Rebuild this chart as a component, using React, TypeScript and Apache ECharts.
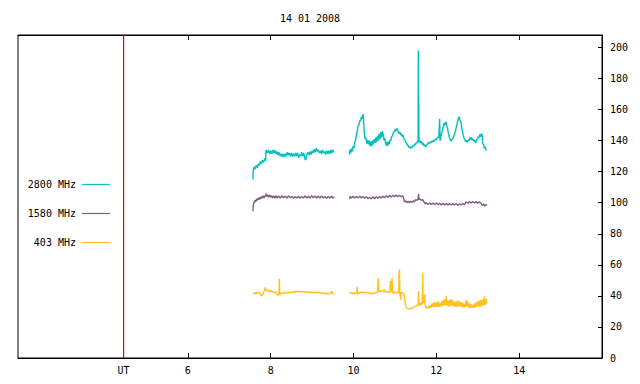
import React, { useEffect, useRef } from "react";
import * as echarts from "echarts";

const title = "14 01 2008";
const seriesNames = ["2800 MHz", "1580 MHz", "403 MHz"];
const seriesColors = ["#00c0c0", "#806080", "#ffc020"];
const utHour = 4.45;
const xTicks = [6, 8, 10, 12, 14];
const yTicks = [0, 20, 40, 60, 80, 100, 120, 140, 160, 180, 200];
const yMax = 208;

const cyan1: [number, number][] = [[7.57,115],[7.58,121],[7.60,123],[7.62,121.5],[7.65,124],[7.68,122.5],[7.70,125],[7.73,124],[7.75,126.5],[7.78,125],[7.80,127.5],[7.83,126],[7.86,128.5],[7.88,127],[7.89,134],[7.92,132],[7.95,134],[7.98,131.5],[8.00,133.5],[8.03,131.5],[8.05,134],[8.08,132],[8.10,134],[8.13,131.5],[8.15,133],[8.18,130.5],[8.20,132.5],[8.23,130],[8.25,131.5],[8.28,129.5],[8.30,131.5],[8.33,129.5],[8.35,131.5],[8.38,130],[8.40,132.5],[8.43,130.5],[8.45,132],[8.48,130],[8.50,132],[8.53,129.5],[8.55,131.5],[8.58,130],[8.60,132],[8.63,130],[8.65,132],[8.68,129],[8.70,131],[8.73,130],[8.75,132.5],[8.78,130],[8.80,132],[8.83,128],[8.85,127.5],[8.87,131],[8.90,132.5],[8.93,130.5],[8.95,133],[8.98,131],[9.00,133.5],[9.03,132],[9.05,134.5],[9.08,132.5],[9.10,135],[9.13,133],[9.15,134],[9.18,132],[9.20,133.5],[9.23,131.5],[9.25,134],[9.28,132],[9.30,133],[9.33,131],[9.35,133.5],[9.38,131.5],[9.40,133.5],[9.43,131.5],[9.45,134],[9.48,132],[9.50,134],[9.53,132.5]];
const cyan2: [number, number][] = [[9.90,131],[9.91,134],[9.93,132],[9.95,135],[9.97,133],[9.99,136.5],[10.01,135],[10.03,139],[10.05,140],[10.07,144],[10.09,146],[10.11,149.5],[10.13,150],[10.15,153],[10.17,152.5],[10.19,155.5],[10.21,154],[10.23,157],[10.24,155],[10.26,145],[10.28,141],[10.30,142],[10.32,138],[10.34,140.5],[10.36,137.5],[10.38,140],[10.40,136.5],[10.42,139.5],[10.44,136.5],[10.46,140],[10.48,137.5],[10.50,141],[10.52,138.5],[10.54,142],[10.56,139],[10.58,143],[10.60,140],[10.62,144.5],[10.64,141],[10.66,145.5],[10.68,142],[10.70,146],[10.72,143.5],[10.74,140],[10.76,141.5],[10.78,137],[10.80,139],[10.82,136.5],[10.84,139.5],[10.86,137.5],[10.88,140.5],[10.90,140],[10.92,142.5],[10.94,143],[10.96,145],[10.98,145.5],[11.00,147],[11.02,146],[11.04,148],[11.06,146.5],[11.08,146],[11.10,144.5],[11.12,145.5],[11.14,143.5],[11.16,144.5],[11.18,142.5],[11.20,143.5],[11.22,141],[11.24,140.5],[11.26,139],[11.28,138.5],[11.30,137],[11.32,137],[11.34,135.5],[11.36,136],[11.38,135],[11.40,136],[11.42,135.5],[11.44,137],[11.46,136.5],[11.48,138],[11.50,137.5],[11.52,139],[11.54,138.5],[11.56,140],[11.565,198],[11.57,140],[11.575,168],[11.58,139],[11.60,140],[11.62,138.5],[11.64,139.5],[11.66,137.5],[11.68,138.5],[11.70,136.5],[11.72,137.5],[11.74,136],[11.76,137],[11.78,137.5],[11.80,138.5],[11.82,138],[11.84,139],[11.86,138.5],[11.88,139.5],[11.90,139],[11.92,140],[11.94,139.5],[11.96,140.5],[11.98,140],[12.00,141.5],[12.02,141],[12.04,142.5],[12.06,142],[12.08,154],[12.09,140],[12.11,142.5],[12.13,145],[12.15,147],[12.17,149],[12.19,151.5],[12.21,150],[12.23,152],[12.25,150],[12.27,148],[12.29,145],[12.31,142.5],[12.33,141],[12.35,139.5],[12.37,140.5],[12.39,141],[12.41,142],[12.43,143.5],[12.45,145],[12.47,147],[12.49,149.5],[12.51,152],[12.53,154],[12.55,155.5],[12.57,153],[12.59,152.5],[12.61,149],[12.63,146],[12.65,143.5],[12.67,141.5],[12.69,140.5],[12.71,139.5],[12.73,140],[12.75,139],[12.77,140.5],[12.79,140],[12.81,142],[12.83,140.5],[12.85,142],[12.87,140],[12.89,141],[12.91,139.5],[12.93,140],[12.95,138.5],[12.97,140.5],[12.99,141],[13.01,142.5],[13.03,142],[13.05,144],[13.07,142.5],[13.09,144.5],[13.11,143],[13.12,138],[13.14,137.5],[13.16,135],[13.18,136],[13.20,133.5]];

const purple1: [number, number][] = [[7.57,94.5],[7.58,98.5],[7.60,100],[7.62,101.5],[7.64,100.5],[7.66,102.5],[7.68,101.5],[7.70,103],[7.72,102],[7.74,103.5],[7.76,102.5],[7.78,104],[7.80,103],[7.82,104.5],[7.84,103],[7.86,104.5],[7.88,104],[7.89,106],[7.91,104],[7.93,105],[7.95,103.5],[7.98,105],[8.00,103.5],[8.03,104.5],[8.05,103],[8.08,104.5],[8.10,103],[8.13,104.5],[8.15,103],[8.19,104.3],[8.23,103],[8.27,104.5],[8.31,103.2],[8.35,104.2],[8.39,103],[8.43,104.5],[8.47,103.2],[8.51,104.2],[8.55,102.8],[8.59,104],[8.63,103],[8.67,104.2],[8.71,102.8],[8.75,104],[8.79,103],[8.83,104.3],[8.87,103],[8.91,104.2],[8.95,103],[8.99,104.5],[9.03,103.2],[9.07,104.3],[9.11,103],[9.15,104.2],[9.19,103],[9.23,104.3],[9.27,103],[9.31,104],[9.35,102.8],[9.39,104],[9.43,103],[9.47,104.2],[9.50,103],[9.53,103.8]];
const purple2: [number, number][] = [[9.90,102.5],[9.92,104],[9.95,103],[9.99,104.2],[10.03,103],[10.07,104],[10.11,103.2],[10.15,104.2],[10.19,103],[10.23,104],[10.27,102.8],[10.31,103.8],[10.35,102.5],[10.39,103.6],[10.43,102.5],[10.47,103.8],[10.51,102.6],[10.55,103.8],[10.59,102.8],[10.63,104],[10.67,103],[10.71,104.2],[10.75,103.2],[10.79,104.5],[10.83,103.5],[10.87,104.6],[10.91,103.6],[10.95,104.8],[10.99,103.8],[11.03,105],[11.07,103.8],[11.11,104.8],[11.15,103.8],[11.19,104.5],[11.21,103],[11.23,100.5],[11.26,101.2],[11.29,100],[11.32,101],[11.35,100],[11.38,101],[11.41,100.2],[11.44,101.2],[11.47,100.5],[11.50,102],[11.53,101.5],[11.56,102.5],[11.57,105.5],[11.58,102],[11.61,102.5],[11.64,101.5],[11.67,102],[11.70,100.5],[11.73,99.2],[11.76,100],[11.80,98.8],[11.84,99.8],[11.88,98.8],[11.92,99.8],[11.96,98.8],[12.00,99.8],[12.04,98.8],[12.08,99.6],[12.12,98.6],[12.16,99.6],[12.20,98.6],[12.24,99.5],[12.28,98.5],[12.32,99.5],[12.36,98.5],[12.40,99.4],[12.44,98.5],[12.48,99.3],[12.52,98.4],[12.56,99.3],[12.60,98.5],[12.64,99.5],[12.68,98.8],[12.72,100.5],[12.76,99.6],[12.80,100.8],[12.84,99.8],[12.88,100.8],[12.92,99.8],[12.96,100.8],[13.00,99.6],[13.04,100.6],[13.08,99.5],[13.11,98.2],[13.14,99.2],[13.17,97.8],[13.20,99],[13.22,98.2]];

const orange1: [number, number][] = [[7.58,41],[7.60,42],[7.62,41.5],[7.64,42.3],[7.66,41.5],[7.68,42.5],[7.70,41.8],[7.72,42.5],[7.74,41.5],[7.76,40.5],[7.78,40],[7.80,41],[7.82,41.5],[7.84,43],[7.86,44],[7.87,45.5],[7.89,43],[7.91,44],[7.93,43.5],[7.95,44],[7.97,42.5],[8.00,43.5],[8.03,42.5],[8.06,43],[8.09,42],[8.12,42.5],[8.15,41],[8.18,40.5],[8.20,41],[8.21,51],[8.22,41],[8.25,41.5],[8.28,42],[8.31,41.5],[8.34,42.3],[8.37,41.7],[8.40,42.2],[8.43,41.8],[8.46,42.5],[8.49,41.8],[8.52,42.5],[8.55,42],[8.58,43],[8.61,42.2],[8.64,43.2],[8.67,42.5],[8.70,43.2],[8.73,42.5],[8.76,43],[8.79,42.3],[8.82,43],[8.85,42],[8.88,42.8],[8.91,42],[8.94,42.7],[8.97,42],[9.00,42.5],[9.03,41.8],[9.06,42.5],[9.09,41.8],[9.12,42.5],[9.15,41.8],[9.18,42.4],[9.21,41.5],[9.24,42],[9.27,41.3],[9.30,41.8],[9.33,41.3],[9.36,41.8],[9.39,41.2],[9.42,41.8],[9.45,41.5],[9.48,43],[9.50,41.5],[9.53,41]];
const orange2: [number, number][] = [[9.90,41.7],[9.93,42.2],[9.96,41.3],[9.99,42],[10.02,41.3],[10.05,42],[10.08,41.5],[10.09,46],[10.10,41.3],[10.13,41.5],[10.16,42.4],[10.19,42],[10.22,42.6],[10.25,42],[10.28,42.5],[10.31,41.7],[10.34,42.2],[10.37,41.5],[10.40,42],[10.43,41.3],[10.46,41.8],[10.49,41.3],[10.52,42.3],[10.55,42],[10.58,42.5],[10.60,51.5],[10.61,42.5],[10.64,43.2],[10.67,42.6],[10.70,43.5],[10.73,43],[10.75,44],[10.77,42.5],[10.80,42.8],[10.83,42.2],[10.86,42.6],[10.88,42.4],[10.89,49.5],[10.91,42.5],[10.93,51.5],[10.95,42],[10.97,41.4],[11.00,42.5],[11.03,41.8],[11.06,42.4],[11.09,42],[11.10,55.5],[11.11,57],[11.12,42],[11.14,37.5],[11.15,42.2],[11.18,42],[11.21,41.6],[11.23,40],[11.25,35],[11.27,33],[11.30,31.8],[11.33,31.5],[11.36,32],[11.39,31.8],[11.42,32.3],[11.45,32.5],[11.48,33.2],[11.51,33.5],[11.54,33.8],[11.56,34],[11.57,43],[11.58,34],[11.60,35.5],[11.62,34],[11.64,36],[11.66,34.5],[11.67,54.8],[11.68,35.5],[11.70,36],[11.72,40.8],[11.73,34],[11.75,32.2],[11.77,33],[11.79,32],[11.81,33.5],[11.83,32.2],[11.85,34],[11.87,32.5],[11.89,35],[11.91,32.8],[11.93,35.5],[11.95,33],[11.97,36],[11.99,33],[12.01,35.8],[12.03,33],[12.05,36.5],[12.07,33],[12.09,35],[12.11,33.2],[12.13,36.5],[12.15,33.5],[12.17,37.5],[12.19,34],[12.21,38],[12.23,34],[12.24,40],[12.26,33.5],[12.28,37],[12.30,33.2],[12.32,37.5],[12.34,33.5],[12.36,37.8],[12.38,33.5],[12.40,37.5],[12.42,33.5],[12.44,36],[12.46,33],[12.48,36.5],[12.50,33],[12.52,37],[12.54,33.5],[12.56,36.5],[12.58,33],[12.60,36],[12.62,33],[12.64,35.5],[12.66,32.5],[12.68,35],[12.70,32.8],[12.72,37.5],[12.74,33],[12.76,36.5],[12.78,32.5],[12.80,35],[12.82,32.3],[12.84,34.5],[12.86,32.3],[12.88,34],[12.90,32.5],[12.92,35],[12.94,32.5],[12.96,36],[12.98,33],[13.00,36.5],[13.02,33],[13.04,37],[13.06,33],[13.08,37.5],[13.10,33.5],[13.12,38],[13.14,34],[13.16,39.5],[13.18,34],[13.20,38],[13.22,35]];

const gapMarker: [number, string] = [9.7, "-"];
const FONT = "DejaVu Sans Mono";

export default function App() {
  const ref = useRef<HTMLDivElement>(null);
  useEffect(() => {
    if (!ref.current) return;
    const chart = echarts.init(ref.current, null, { renderer: "svg" });
    const segs = [
      [cyan1, cyan2],
      [purple1, purple2],
      [orange1, orange2],
    ];
    const legendY = [184, 213, 242];
    const graphic: any[] = [
      {
        type: "text",
        style: { x: 310, y: 18, text: title, textAlign: "center", textVerticalAlign: "middle", font: `10px "${FONT}"`, fill: "#000" },
      },
    ];
    seriesNames.forEach((n, i) => {
      graphic.push({
        type: "text",
        style: { x: 76, y: legendY[i], text: n, textAlign: "right", textVerticalAlign: "middle", font: `10px "${FONT}"`, fill: "#000" },
      });
      graphic.push({
        type: "line",
        shape: { x1: 82, y1: legendY[i] + 0.5, x2: 110, y2: legendY[i] + 0.5 },
        style: { stroke: seriesColors[i], lineWidth: 1.2 },
      });
    });
    const dataSeries = seriesNames.map((name, i) => ({
      name,
      type: "line",
      showSymbol: false,
      symbol: "none",
      connectNulls: false,
      lineStyle: { color: seriesColors[i], width: 1.4 },
      itemStyle: { color: seriesColors[i] },
      data: [...segs[i][0], gapMarker, ...segs[i][1]],
    }));
    chart.setOption({
      animation: false,
      backgroundColor: "#fff",
      textStyle: { fontFamily: FONT, fontSize: 10, color: "#000" },
      grid: { left: 18, right: 38, top: 35, bottom: 26, show: true, borderColor: "#000", borderWidth: 1, containLabel: false },
      graphic,
      xAxis: [
        {
          type: "value",
          min: 1.9,
          max: 16,
          position: "bottom",
          axisLine: { show: true, lineStyle: { color: "#000" } },
          axisTick: { show: true, inside: true, length: 5, customValues: xTicks, lineStyle: { color: "#000" } },
          axisLabel: {
            show: true,
            customValues: [utHour, ...xTicks],
            formatter: (v: number) => (Math.abs(v - utHour) < 1e-6 ? "UT" : String(v)),
            color: "#000",
            fontFamily: FONT,
            fontSize: 10,
            margin: 7,
          },
          splitLine: { show: false },
        },
        {
          type: "value",
          min: 1.9,
          max: 16,
          position: "top",
          axisLine: { show: true, lineStyle: { color: "#000" } },
          axisTick: { show: true, inside: true, length: 5, customValues: xTicks, lineStyle: { color: "#000" } },
          axisLabel: { show: false },
          splitLine: { show: false },
        },
      ],
      yAxis: {
        type: "value",
        min: 0,
        max: yMax,
        position: "right",
        axisLine: { show: true, lineStyle: { color: "#000" } },
        axisTick: { show: true, inside: true, length: 4, customValues: yTicks, lineStyle: { color: "#000" } },
        axisLabel: { show: true, customValues: yTicks, color: "#000", fontFamily: FONT, fontSize: 10, margin: 8 },
        splitLine: { show: false },
      },
      series: [
        {
          name: "UT",
          type: "line",
          silent: true,
          showSymbol: false,
          symbol: "none",
          z: 1,
          lineStyle: { color: "#e00000", width: 1.2 },
          itemStyle: { color: "#e00000" },
          data: [[utHour, 0], [utHour, yMax]],
        },
        ...dataSeries,
      ],
    });
    return () => chart.dispose();
  }, []);
  return <div ref={ref} style={{ width: 640, height: 384, position: "absolute", left: 0, top: 0 }} />;
}
